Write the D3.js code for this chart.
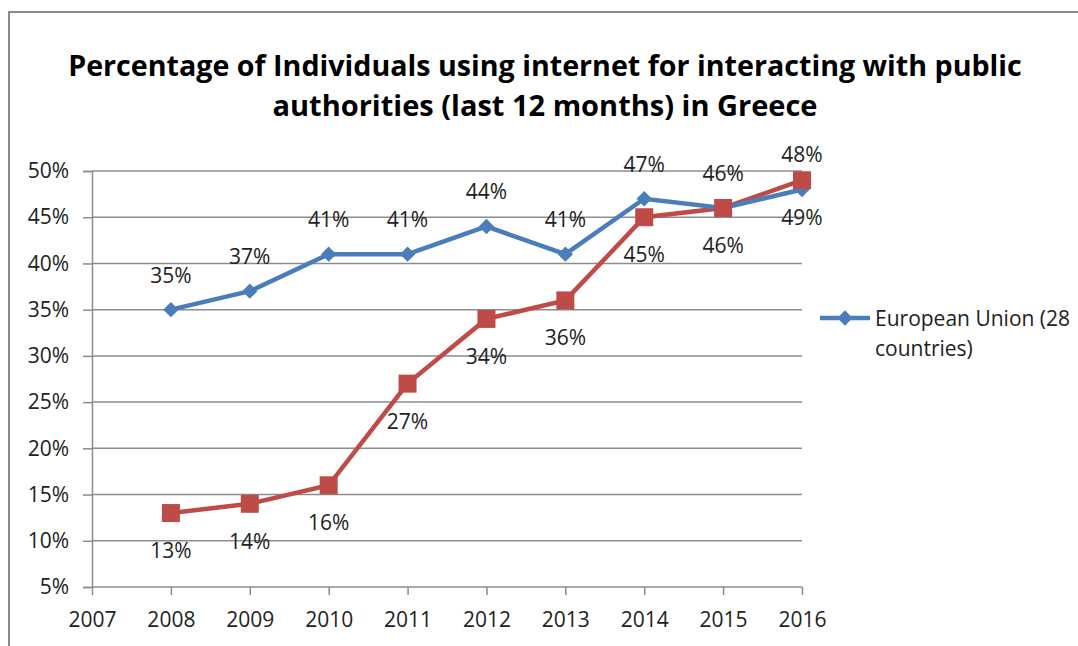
<!DOCTYPE html>
<html lang="en">
<head>
<meta charset="UTF-8">
<title>Internet use for interacting with public authorities</title>
<style>
    body { margin: 0; background: #fff; }
    svg { display: block; }
    .tick text, .lbl, .legend text { font-family: "Open Sans", Arial, sans-serif; fill: #222; }
</style>
</head>
<body>
<svg id="chart" width="1078" height="646"></svg>
<script src="https://d3js.org/d3.v7.min.js"></script>
<script>
// data
const years = [2008, 2009, 2010, 2011, 2012, 2013, 2014, 2015, 2016];
const euValues = [35, 37, 41, 41, 44, 41, 47, 46, 48];
const greeceValues = [13, 14, 16, 27, 34, 36, 45, 46, 49];
const xTicks = [2007, 2008, 2009, 2010, 2011, 2012, 2013, 2014, 2015, 2016];
const yTicks = [5, 10, 15, 20, 25, 30, 35, 40, 45, 50];
const titleLines = ["Percentage of Individuals using internet for interacting with public",
                    "authorities (last 12 months) in Greece"];

const svg = d3.select('#chart');
const plotLeft = 92, plotRight = 802, plotTop = 171, plotBottom = 587;
const blue = '#4a7ebb', red = '#be4b48', grid = '#8c8c8c';
const fs = 21;

// outer frame
svg.append('path')
    .attr('d', 'M9,646 V12 H1078')
    .attr('fill', 'none')
    .attr('stroke', '#8a8a8a')
    .attr('stroke-width', 2);

// title, fitted to the width of the original
const title = svg.append('g');
titleLines.forEach((t, i) => {
    const txt = title.append('text')
        .attr('x', 545)
        .attr('y', 76 + i * 40)
        .attr('text-anchor', 'middle')
        .attr('font-family', '"Open Sans", Arial, sans-serif')
        .attr('font-weight', 'bold')
        .attr('font-size', 28)
        .attr('fill', '#000')
        .text(t);
    const target = i === 0 ? 954 : 545;
    const w = txt.node().getComputedTextLength();
    txt.attr('font-size', 28 * target / w);
});

const x = d3.scaleLinear().domain([2007, 2016]).range([plotLeft, plotRight]);
const y = d3.scaleLinear().domain([5, 50]).range([plotBottom, plotTop]);

// horizontal gridlines
svg.append('g')
    .selectAll('line')
    .data(yTicks.slice(1))
    .join('line')
    .attr('x1', plotLeft).attr('x2', plotRight)
    .attr('y1', d => y(d)).attr('y2', d => y(d))
    .attr('stroke', grid)
    .attr('stroke-width', 1.5);

// axes
const yAxis = svg.append('g')
    .attr('transform', `translate(${plotLeft},0)`)
    .call(d3.axisLeft(y).tickValues(yTicks).tickFormat(d => d + '%').tickSize(9).tickPadding(14));
const xAxis = svg.append('g')
    .attr('transform', `translate(0,${plotBottom})`)
    .call(d3.axisBottom(x).tickValues(xTicks).tickFormat(d3.format('d')).tickSize(8).tickPadding(17));

[yAxis, xAxis].forEach(a => {
    a.select('.domain').attr('stroke', grid).attr('stroke-width', 1.5);
    a.selectAll('.tick line').attr('stroke', grid).attr('stroke-width', 1.5);
    a.selectAll('.tick text').attr('font-size', fs);
});
xAxis.select('.domain').attr('d', `M${plotLeft},0H${plotRight}`);

const line = d3.line()
    .x((d, i) => x(years[i]))
    .y(d => y(d));

// Greece
svg.append('path')
    .datum(greeceValues)
    .attr('d', line)
    .attr('fill', 'none')
    .attr('stroke', red)
    .attr('stroke-width', 4.5);

// EU
svg.append('path')
    .datum(euValues)
    .attr('d', line)
    .attr('fill', 'none')
    .attr('stroke', blue)
    .attr('stroke-width', 4.5);

const diamond = d3.symbol().type(d3.symbolDiamond2).size(150);

svg.append('g')
    .selectAll('path')
    .data(euValues)
    .join('path')
    .attr('d', diamond)
    .attr('transform', (d, i) => `translate(${x(years[i])},${y(d)})`)
    .attr('fill', blue);

svg.append('g')
    .selectAll('rect')
    .data(greeceValues)
    .join('rect')
    .attr('x', (d, i) => x(years[i]) - 9)
    .attr('y', d => y(d) - 9)
    .attr('width', 18)
    .attr('height', 18)
    .attr('fill', red);

// data labels: EU above, Greece below
svg.append('g')
    .selectAll('text')
    .data(euValues)
    .join('text')
    .attr('class', 'lbl')
    .attr('x', (d, i) => x(years[i]))
    .attr('y', d => y(d) - 27)
    .attr('text-anchor', 'middle')
    .attr('font-size', fs)
    .text(d => d + '%');

svg.append('g')
    .selectAll('text')
    .data(greeceValues)
    .join('text')
    .attr('class', 'lbl')
    .attr('x', (d, i) => x(years[i]))
    .attr('y', d => y(d) + 45)
    .attr('text-anchor', 'middle')
    .attr('font-size', fs)
    .text(d => d + '%');

// legend (cut off at the right edge like the original)
const legend = svg.append('g').attr('class', 'legend');
legend.append('line')
    .attr('x1', 820).attr('x2', 870)
    .attr('y1', 318).attr('y2', 318)
    .attr('stroke', blue)
    .attr('stroke-width', 4.5);
legend.append('path')
    .attr('d', diamond)
    .attr('transform', 'translate(845,318)')
    .attr('fill', blue);
legend.append('text')
    .attr('x', 875).attr('y', 326)
    .attr('font-size', fs)
    .text('European Union (28');
legend.append('text')
    .attr('x', 875).attr('y', 356)
    .attr('font-size', fs)
    .text('countries)');
</script>
</body>
</html>
